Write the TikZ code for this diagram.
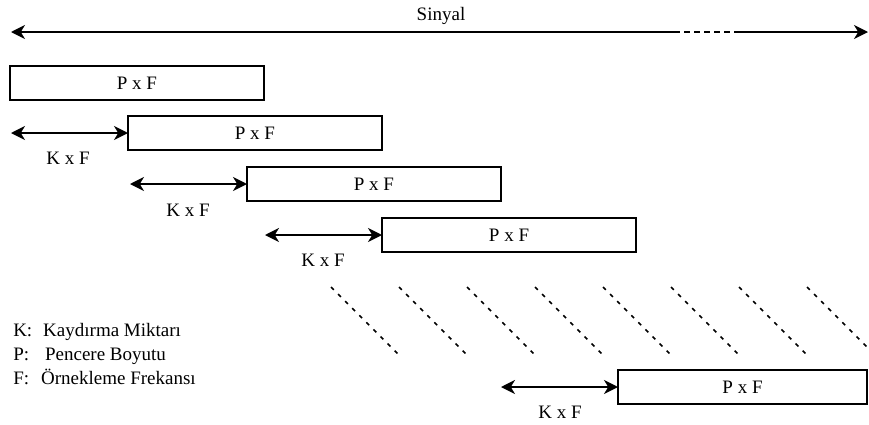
\documentclass[tikz,border=0pt]{standalone}
\usepackage{fontspec}
\setmainfont{Liberation Serif}
\usetikzlibrary{arrows.meta}
\begin{document}
\begin{tikzpicture}[x=0.75pt,y=-0.75pt,
  txt/.style={font=\rmfamily\fontsize{14.25}{17}\selectfont, inner sep=0pt},
  win/.style={draw, line width=1pt, anchor=north west, minimum width=190.5pt, minimum height=25.5pt, inner sep=0pt, outer sep=0pt, txt},
  tip/.tip={Stealth[length=10.5pt,width=10.5pt,inset=3.2pt]},
  darr/.style={line width=1.25pt, tip-tip},
  sarr/.style={line width=1.25pt},
  diag/.style={line width=1.1pt, dash pattern=on 3pt off 4.5pt}
]
\useasboundingbox (0,0) rectangle (869,425);
% top signal arrow
\coordinate (sL) at (11,32);
\coordinate (d1) at (674,32);
\coordinate (d2) at (737,32);
\coordinate (sR) at (868,32);
\node[txt, anchor=base] (sin) at (441,20) {Sinyal};
\draw[sarr, tip-] (sL) -- (d1);
\draw[sarr, dash pattern=on 4.5pt off 3pt] (d1) -- (d2);
\draw[sarr, -tip] (d2) -- (sR);
% windows
\node[win] (b1) at (10,66) {P x F};
\node[win] (b2) at (128,116) {P x F};
\node[win] (b3) at (247,167) {P x F};
\node[win] (b4) at (382,218) {P x F};
\node[win, minimum width=186.75pt] (b5) at (618,370) {P x F};
% shift arrows
\coordinate (a1) at (11,133);
\coordinate (a2) at (130,184);
\coordinate (a3) at (265,235);
\coordinate (a4) at (501,387);
\draw[darr] (a1) -- (b2.west);
\draw[darr] (a2) -- (b3.west);
\draw[darr] (a3) -- (b4.west);
\draw[darr] (a4) -- (b5.west);
\node[txt] (k1) at (68,158) {K x F};
\node[txt] (k2) at (188,210) {K x F};
\node[txt] (k3) at (323,260) {K x F};
\node[txt] (k4) at (560,412) {K x F};
% dashed diagonals
\begin{scope}
\clip (0,0) rectangle (868.5,425);
\foreach \k in {0,...,7}{
  \draw[diag] (331+68*\k,287) -- (399+68*\k,355);
}
\end{scope}
% legend
\node[txt, anchor=base west] (lk) at (13,336) {K:\hspace{8.25pt}Kaydırma Miktarı};
\node[txt, anchor=base west] (lp) at (13,360) {P:\hspace{12pt}Pencere Boyutu};
\node[txt, anchor=base west] (lf) at (13,384) {F:\hspace{9pt}Örnekleme Frekansı};
\end{tikzpicture}
\end{document}
